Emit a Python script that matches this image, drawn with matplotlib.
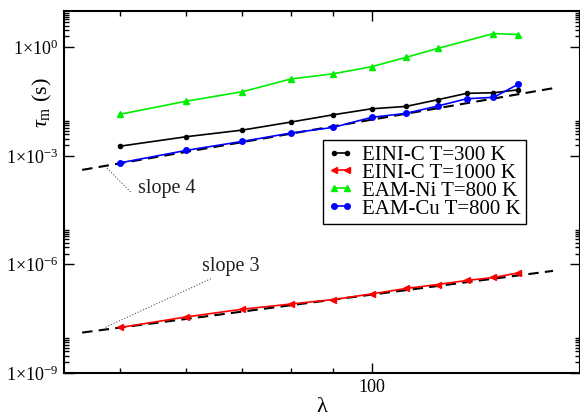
import matplotlib
matplotlib.use("Agg")
import matplotlib.pyplot as plt
from matplotlib.ticker import FixedLocator, FixedFormatter, NullFormatter

plt.rcParams['font.family'] = ['Liberation Serif', 'DejaVu Serif']
plt.rcParams['mathtext.fontset'] = 'custom'
plt.rcParams['mathtext.rm'] = 'Liberation Serif'
plt.rcParams['mathtext.it'] = 'Liberation Serif:italic'
plt.rcParams['axes.unicode_minus'] = False

# ---- data ----
lam = [50, 60, 70, 80, 90, 100, 110, 120, 130, 140, 150]
tau_einic_300 = [1.86e-3, 3.39e-3, 5.16e-3, 8.59e-3, 1.37e-2, 2.00e-2, 2.33e-2, 3.56e-2, 5.35e-2, 5.56e-2, 6.7e-2]
tau_einic_1000 = [1.81e-8, 3.55e-8, 5.79e-8, 8.05e-8, 1.07e-7, 1.53e-7, 2.17e-7, 2.79e-7, 3.60e-7, 4.36e-7, 5.85e-7]
lam_ni = [50, 60, 70, 80, 90, 100, 110, 120, 140, 150]
tau_eam_ni = [0.0142, 0.0325, 0.0592, 0.133, 0.186, 0.291, 0.528, 0.93, 2.40, 2.25]
tau_eam_cu = [6.44e-4, 1.42e-3, 2.51e-3, 4.27e-3, 6.14e-3, 1.16e-2, 1.50e-2, 2.38e-2, 3.79e-2, 4.15e-2, 9.6e-2]

fit_lam = [45, 165]
fit_slope4 = [4.1e-4, 7.41e-2]
fit_slope3 = [1.31e-8, 6.64e-7]

series_labels = ['EINI-C T=300 K', 'EINI-C T=1000 K', 'EAM-Ni T=800 K', 'EAM-Cu T=800 K']

y_major = [1e-9, 1e-6, 1e-3, 1e0]
y_major_labels = ['1×10$^{-9}$', '1×10$^{-6}$', '1×10$^{-3}$', '1×10$^{0}$']
x_major = [100]
x_major_labels = ['100']
x_minor = [50, 60, 70, 80, 90]

# ---- figure ----
fig = plt.figure(figsize=(5.8, 4.18), dpi=100)
ax = fig.add_axes([64/580, 45/418, 515.5/580, 362.3/418])
ax.set_xscale('log')
ax.set_yscale('log')

ax.plot(fit_lam, fit_slope4, color='black', lw=1.5, ls=(0, (5, 3)), zorder=2)
ax.plot(fit_lam, fit_slope3, color='black', lw=1.5, ls=(0, (5, 3)), zorder=2)

ax.plot(lam, tau_einic_300, color='black', lw=1.2, marker='o', ms=3, label=series_labels[0], zorder=3)
ax.plot(lam, tau_einic_1000, color='red', lw=1.2, marker='<', ms=4, label=series_labels[1], zorder=3)
ax.plot(lam_ni, tau_eam_ni, color='#00ee00', lw=1.2, marker='^', ms=4.5, label=series_labels[2], zorder=3)
ax.plot(lam, tau_eam_cu, color='blue', lw=1.2, marker='o', ms=4, label=series_labels[3], zorder=3)

# annotations
ax.plot([48.2, 51.6], [10**-3.338, 10**-4.03], color='#555555', lw=0.8, ls=':')
ax.text(52.5, 10**-3.89, 'slope 4', fontsize=14.5, ha='left', va='center', color='#222222')
ax.plot([48.0, 64.4], [10**-7.735, 10**-6.38], color='#555555', lw=0.8, ls=':')
ax.text(62.6, 10**-6.067, 'slope 3', fontsize=14.5, ha='left', va='center', color='#222222')

ax.set_xlim(42.8, 177.5)
ax.set_ylim(1e-9, 10**1.012)

ax.xaxis.set_major_locator(FixedLocator(x_major))
ax.xaxis.set_major_formatter(FixedFormatter(x_major_labels))
ax.xaxis.set_minor_locator(FixedLocator(x_minor))
ax.xaxis.set_minor_formatter(NullFormatter())

y_minor = [m * b for b in y_major for m in range(2, 10)]
ax.yaxis.set_major_locator(FixedLocator(y_major))
ax.yaxis.set_major_formatter(FixedFormatter(y_major_labels))
ax.yaxis.set_minor_locator(FixedLocator(y_minor))
ax.yaxis.set_minor_formatter(NullFormatter())

ax.tick_params(which='both', direction='in', top=True, right=True, width=1.0, labelsize=13, colors='black')
ax.tick_params(which='major', length=7.2, pad=4)
ax.tick_params(which='minor', length=3.6)
for s in ax.spines.values():
    s.set_linewidth(1.5)

ax.set_xlabel('λ', fontsize=16, labelpad=2)
fig.text(42/580, 1 - 103/418, r'$\tau_{\mathrm{m}}$ (s)', rotation=90, fontsize=16,
         ha='center', va='center')

leg = ax.legend(loc='upper left', bbox_to_anchor=(322.7/580, 1 - 140/418),
                bbox_transform=fig.transFigure, borderaxespad=0, fontsize=15,
                numpoints=2, handlelength=1.2, handletextpad=0.45, labelspacing=-0.08,
                borderpad=0.25, fancybox=False, framealpha=1, edgecolor='black')
leg.get_frame().set_linewidth(1.0)

fig.savefig('out.png', dpi=100)
